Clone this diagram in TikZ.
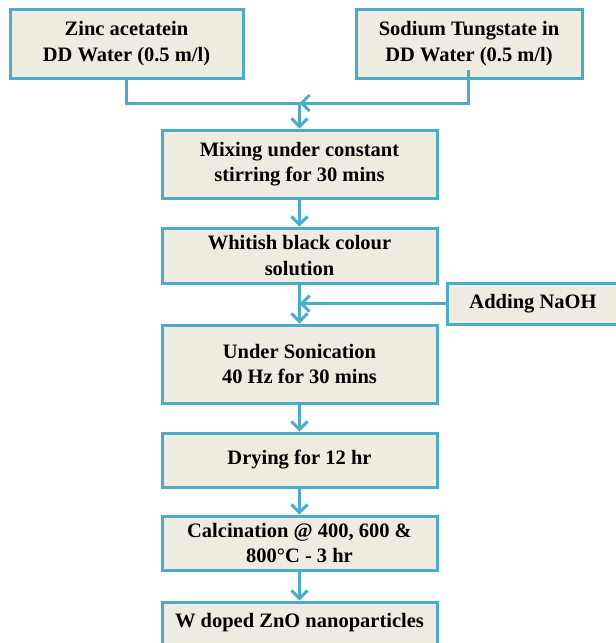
\documentclass[tikz,border=0pt]{standalone}
\usepackage{fontspec}
\setmainfont{Liberation Serif}
\usetikzlibrary{arrows.meta}
\definecolor{bordc}{HTML}{4BACC6}
\definecolor{fillc}{HTML}{EEECE1}
\begin{document}
\begin{tikzpicture}[x=1pt,y=-1pt,
  box/.style={draw=bordc, fill=fillc, line width=3pt, align=center,
    font=\fontsize{20.5}{25.5}\selectfont\bfseries, inner sep=0pt, anchor=center},
  link/.style={draw=bordc, line width=3pt},
  arr/.style={link, -{Straight Barb[length=8pt,width=16pt]}}]
\useasboundingbox (0,0) rectangle (616,643);
\clip (0,0) rectangle (616,643);
\node[box, minimum width=233pt, minimum height=69pt] (zinc) at (126.5,43.5) {Zinc acetatein\\DD Water (0.5 m/l)};
\node[box, minimum width=226pt, minimum height=69pt] (sodium) at (469,43.5) {Sodium Tungstate in\\DD Water (0.5 m/l)};
\node[box, minimum width=275pt, minimum height=68pt] (mix) at (299.5,164) {Mixing under constant\\stirring for 30 mins};
\node[box, minimum width=275pt, minimum height=55pt] (white) at (299.5,255.5) {Whitish black colour\\solution};
\node[box, minimum width=172pt, minimum height=41pt] (naoh) at (533,303.5) {Adding NaOH};
\node[box, minimum width=275pt, minimum height=78pt] (son) at (299.5,364) {Under Sonication\\40 Hz for 30 mins};
\node[box, minimum width=275pt, minimum height=54pt] (dry) at (299.5,460) {Drying for 12 hr};
\node[box, minimum width=275pt, minimum height=54pt] (calc) at (299.5,543) {Calcination @ 400, 600 \&\\800°C - 3 hr};
\node[box, minimum width=275pt, minimum height=42pt] (wzno) at (299.5,623) {W doped ZnO nanoparticles};
\coordinate (j1) at (299.5,103);
\coordinate (s0) at (468,70);
\coordinate (j2) at (299.5,303.5);
\draw[link] (zinc.south) |- (j1);
\draw[arr] (s0) |- (j1);
\draw[arr] (j1) -- (mix.north);
\draw[arr] (mix.south) -- (white.north);
\draw[arr] (naoh.west) -- (j2);
\draw[arr] (white.south) -- (son.north);
\draw[arr] (son.south) -- (dry.north);
\draw[arr] (dry.south) -- (calc.north);
\draw[arr] (calc.south) -- (wzno.north);
\end{tikzpicture}
\end{document}
